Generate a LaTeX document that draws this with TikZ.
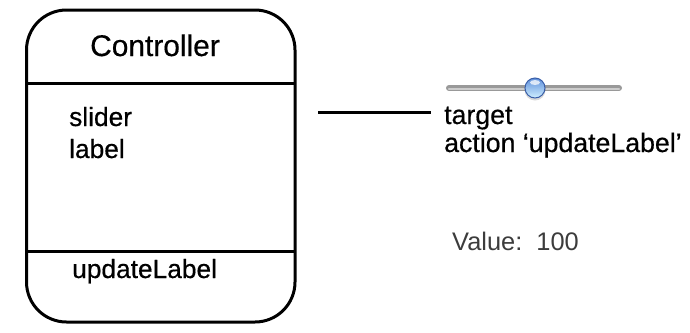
\documentclass[tikz,border=0pt]{standalone}
\usepackage{fontspec}
\setmainfont{Liberation Sans}
\newfontfamily\hfont{Liberation Sans}[BoldFont={Liberation Sans}, BoldFeatures={FakeBold=0.5}]
\definecolor{knobedge}{HTML}{3A5FA8}
\definecolor{knobtop}{HTML}{5F8FDB}
\definecolor{knobbot}{HTML}{CFEFFF}
\definecolor{valgray}{HTML}{3C3C3C}
\begin{document}
\begin{tikzpicture}[x=1bp,y=-1bp,
  txt/.style={inner sep=0pt, font=\hfont\bfseries\fontsize{26.4}{30}\selectfont},
  umlline/.style={line width=3bp, black}]
\useasboundingbox (0,0) rectangle (690,332);
% class box
\draw[umlline, rounded corners=40bp] (26.5,10) rectangle (295,322);
\coordinate (d1l) at (26.5,83);  \coordinate (d1r) at (295,83);
\coordinate (d2l) at (26.5,251); \coordinate (d2r) at (295,251);
\draw[umlline] (d1l) -- (d1r);
\draw[umlline] (d2l) -- (d2r);
\node[txt, anchor=base, font=\hfont\bfseries\fontsize{30}{34}\selectfont] (title) at (155,56) {Controller};
\node[txt, anchor=base west] (slider) at (69,126) {slider};
\node[txt, anchor=base west] (label) at (69,158) {label};
\node[txt, anchor=base west] (upd) at (72,278) {updateLabel};
% connector
\coordinate (c1) at (318,112);
\coordinate (c2) at (431,112);
\draw[umlline] (c1) -- (c2);
\node[txt, anchor=base west, font=\hfont\bfseries\fontsize{26.8}{30}\selectfont] (target) at (444,124) {target};
\node[txt, anchor=base west, font=\hfont\bfseries\fontsize{26.8}{30}\selectfont] (action) at (444,152) {action ‘updateLabel’};
% slider widget
\coordinate (t1) at (449,88);
\coordinate (t2) at (619,88);
\draw[line width=6bp, line cap=round, gray!80] (t1) -- (t2);
\draw[line width=2.5bp, line cap=round, gray!40] ([yshift=-1bp]t1) -- ([yshift=-1bp]t2);
\fill[black, opacity=0.15] (535,90) circle (10.5bp);
\node[circle, minimum size=20bp, inner sep=0pt, draw=knobedge, line width=1bp,
      top color=knobtop, bottom color=knobbot] (knob) at (535,88) {};
\fill[white, opacity=0.75] (535,82.5) ellipse (5bp and 2.5bp);
% value label
\node[inner sep=0pt, anchor=base west, text=valgray, font=\fontsize{25.5}{30}\selectfont] (value) at (452,250) {Value:\ \ 100};
\end{tikzpicture}
\end{document}
